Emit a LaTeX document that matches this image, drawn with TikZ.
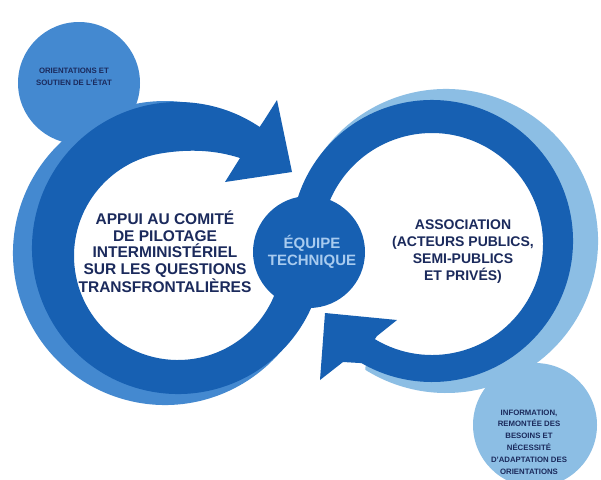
\documentclass[tikz,border=0pt]{standalone}
\usepackage{fontspec}
\setmainfont{Liberation Sans}
\usetikzlibrary{calc}
\definecolor{loopdark}{HTML}{1760B2}
\definecolor{midblue}{HTML}{4489D0}
\definecolor{paleblue}{HTML}{8CBEE4}
\definecolor{navytext}{HTML}{1B2A5C}
\definecolor{equipetext}{HTML}{A8CBEF}
\begin{document}
\begin{tikzpicture}[x=1pt,y=-1pt,
  bigtext/.style={anchor=base, align=center, text=navytext,
    font=\bfseries\fontsize{15.5}{16.6}\selectfont},
  righttext/.style={anchor=base, align=center, text=navytext,
    font=\bfseries\fontsize{14}{16.8}\selectfont},
  smalltext/.style={anchor=base, align=center, text=navytext,
    font=\bfseries\fontsize{7.8}{11.8}\selectfont}]
\useasboundingbox (0,0) rectangle (601,479);
\fill[white] (0,0) rectangle (601,479);

% satellite discs
\fill[midblue] (79,83) circle[radius=61];
\fill[paleblue] (535,425) circle[radius=62];

% shadow bands behind the two loops
\fill[midblue] ($(165,253)+(15:152)$) arc[start angle=15, end angle=300, radius=152]
  -- ($(178,252)+(300:120)$) arc[start angle=300, end angle=15, radius=120] -- cycle;
\fill[paleblue] ($(446,241)+(200:152)$) arc[start angle=200, end angle=482, radius=152]
  -- ($(432,242)+(482:125)$) arc[start angle=482, end angle=200, radius=125] -- cycle;

% left loop arrow (clockwise, head towards the centre)
\fill[loopdark] ($(178,248)+(15:146)$) arc[start angle=15, end angle=304, radius=146]
  -- (263,122) -- (277,100) -- (292,172) -- (225,182) -- (240,158)
  .. controls (215,150) and (190,149) .. ($(178,256)+(262:104)$)
  arc[start angle=262, end angle=15, radius=104] -- cycle;

% right loop arrow (clockwise, head towards the centre)
\fill[loopdark] ($(432,241)+(190:141)$) arc[start angle=190, end angle=480, radius=141]
  -- (343,362) -- (320,380) -- (325,313) -- (397,320) -- (377,336)
  -- ($(432,244)+(481:111)$) arc[start angle=481, end angle=190, radius=111] -- cycle;

% central hub
\node[circle, fill=loopdark, minimum size=112pt, inner sep=0pt] (hub) at (309,252) {};
\node[anchor=base, align=center, text=equipetext,
  font=\bfseries\fontsize{15}{17}\selectfont] (equipe) at (312,265) {ÉQUIPE\\TECHNIQUE};

% labels (each placed by the baseline of its last line)
\node[bigtext] (appui) at (165,292)
  {APPUI AU COMITÉ\\DE PILOTAGE\\INTERMINISTÉRIEL\\SUR LES QUESTIONS\\TRANSFRONTALIÈRES};
\node[righttext] (assoc) at (463,280)
  {ASSOCIATION\\(ACTEURS PUBLICS,\\SEMI-PUBLICS\\ET PRIVÉS)};
\node[smalltext] (etat) at (74,85) {ORIENTATIONS ET\\SOUTIEN DE L'ÉTAT};
\node[smalltext] (info) at (529,474)
  {INFORMATION,\\REMONTÉE DES\\BESOINS ET\\NÉCESSITÉ\\D'ADAPTATION DES\\ORIENTATIONS};
\end{tikzpicture}
\end{document}
